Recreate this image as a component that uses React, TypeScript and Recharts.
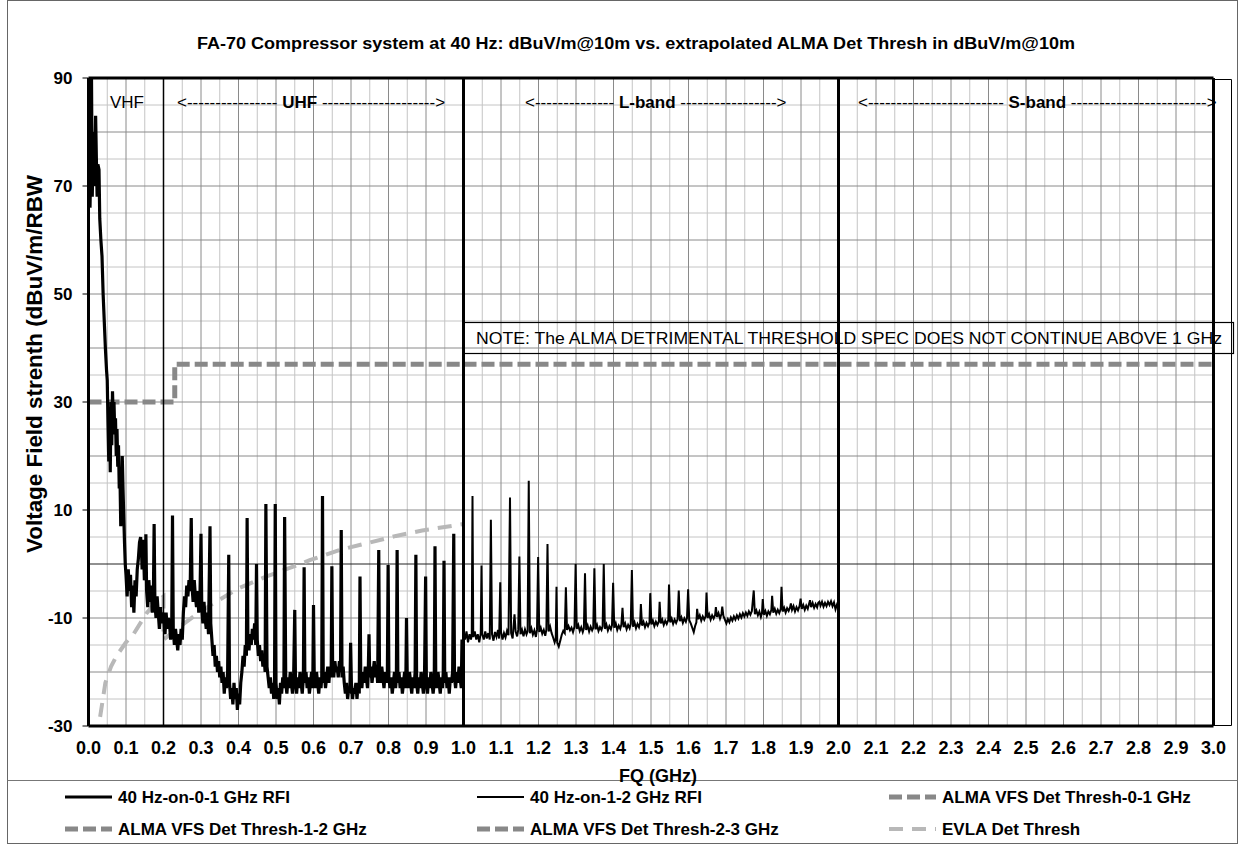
import React from 'react'
import { LineChart, Line, XAxis, YAxis, ReferenceLine } from 'recharts'

// frequency (GHz), level (dBuV/m)
const rfi0to1: [number, number][] = [
  [0.000, 88], [0.002, 90], [0.004, 66], [0.006, 74], [0.008, 90], [0.010, 68], [0.013, 80], [0.016, 70],
  [0.019, 83], [0.021, 75], [0.023, 68], [0.025, 74], [0.028, 73], [0.030, 64], [0.033, 60], [0.036, 57],
  [0.039, 50], [0.042, 45], [0.045, 40], [0.048, 36], [0.050, 34], [0.052, 26], [0.054, 19], [0.056, 28],
  [0.058, 17], [0.060, 30], [0.062, 22], [0.064, 32], [0.066, 27], [0.068, 30], [0.070, 24], [0.072, 27],
  [0.074, 20], [0.076, 25], [0.078, 18], [0.080, 22], [0.082, 14], [0.084, 16], [0.086, 7], [0.088, 10],
  [0.090, 20], [0.092, 14], [0.094, 9], [0.096, 4], [0.098, 0], [0.100, -2], [0.103, -6], [0.106, -1],
  [0.109, -5], [0.112, -2], [0.115, -8], [0.118, -4], [0.121, -9], [0.124, -3], [0.127, -6], [0.130, -1],
  [0.133, 1], [0.136, 4], [0.139, 5], [0.141, 3], [0.143, -1], [0.146, 4.5], [0.149, -3], [0.152, -2],
  [0.153, 5.5], [0.155, -5], [0.158, -8], [0.161, -3], [0.164, -7], [0.167, -4], [0.170, -9], [0.173, -6],
  [0.175, 7.4], [0.177, -7], [0.180, -10], [0.183, -6], [0.186, -9], [0.189, -12], [0.192, -8], [0.195, -11],
  [0.198, -9], [0.201, -10], [0.204, -13], [0.207, -9], [0.210, -12], [0.213, -10], [0.216, -11], [0.219, -14],
  [0.222, -11], [0.224, 9], [0.226, -12], [0.229, -15], [0.232, -12], [0.235, -14], [0.238, -16], [0.241, -13],
  [0.244, -15], [0.247, -12], [0.250, -14], [0.253, -9], [0.256, -6], [0.259, -8], [0.262, -4], [0.265, -6],
  [0.268, -3], [0.271, -5], [0.274, 8.5], [0.276, -4], [0.279, -7], [0.282, -3], [0.285, -6], [0.288, -8],
  [0.291, -5], [0.294, -9], [0.297, -7], [0.300, 5.6], [0.302, -8], [0.305, -11], [0.308, -7], [0.311, -10],
  [0.314, -12], [0.317, -9], [0.320, -13], [0.324, 7], [0.326, -11], [0.329, -14], [0.332, -17], [0.335, -15],
  [0.338, -19], [0.341, -17], [0.344, -20], [0.347, -18], [0.350, -21], [0.353, -19], [0.356, -22], [0.359, -20],
  [0.362, -24], [0.365, -21], [0.368, -23], [0.371, -20], [0.374, 1.7], [0.376, -22], [0.379, -25], [0.382, -23],
  [0.385, -26], [0.388, -22], [0.391, -25], [0.394, -23], [0.397, -27], [0.400, -24], [0.403, -26], [0.406, -22],
  [0.409, -20], [0.412, -17], [0.415, -19], [0.418, -15], [0.421, -17], [0.423, 8.5], [0.425, -14], [0.428, -16],
  [0.431, -13], [0.434, -15], [0.437, -12], [0.440, -14], [0.443, -11], [0.446, -15], [0.448, 0], [0.450, -14],
  [0.453, -17], [0.456, -15], [0.459, -18], [0.462, -16], [0.465, -19], [0.468, -17], [0.471, -20], [0.473, 11.1],
  [0.476, -19], [0.479, -21], [0.482, -23], [0.485, -21], [0.488, -24], [0.491, -22], [0.494, -25], [0.496, -23],
  [0.498, 11.1], [0.500, -22], [0.503, -25], [0.506, -23], [0.509, -26], [0.512, -22], [0.515, -24], [0.518, -21],
  [0.521, -23], [0.523, 8.7], [0.526, -22], [0.529, -24], [0.532, -21], [0.535, -23], [0.538, -20], [0.541, -22],
  [0.544, -24], [0.547, -21], [0.550, -8.5], [0.552, -22], [0.555, -24], [0.558, -21], [0.561, -23], [0.564, -20],
  [0.567, -22], [0.570, -24], [0.573, -21], [0.575, -0.6], [0.577, -22], [0.580, -20], [0.583, -23], [0.586, -21],
  [0.589, -24], [0.592, -22], [0.595, -20], [0.598, -23], [0.600, -7.6], [0.602, -21], [0.605, -23], [0.608, -20],
  [0.611, -22], [0.614, -24], [0.617, -21], [0.620, -23], [0.622, -21], [0.624, 12.6], [0.626, -22], [0.629, -20],
  [0.632, -23], [0.635, -21], [0.638, -19], [0.641, -22], [0.644, -19], [0.647, -21], [0.649, -0.4], [0.651, -19],
  [0.654, -21], [0.657, -18], [0.660, -20], [0.663, -19], [0.666, -21], [0.669, -18], [0.672, -20], [0.674, 6.3],
  [0.676, -21], [0.679, -19], [0.682, -22], [0.685, -24], [0.688, -22], [0.691, -25], [0.694, -23], [0.697, -24],
  [0.699, -14.6], [0.701, -22], [0.704, -25], [0.707, -23], [0.710, -24], [0.713, -22], [0.716, -25], [0.719, -22],
  [0.722, -24], [0.724, -2.3], [0.726, -21], [0.729, -23], [0.732, -20], [0.735, -22], [0.738, -19], [0.741, -21],
  [0.744, -23], [0.746, -20], [0.748, -13], [0.750, -21], [0.753, -19], [0.756, -22], [0.759, -20], [0.762, -18],
  [0.765, -21], [0.768, -19], [0.771, -22], [0.774, 2.6], [0.776, -20], [0.779, -22], [0.782, -19], [0.785, -21],
  [0.788, -23], [0.791, -20], [0.794, -22], [0.797, -20], [0.799, -0.2], [0.801, -21], [0.804, -23], [0.807, -21],
  [0.810, -24], [0.813, -22], [0.816, -20], [0.819, -23], [0.821, -21], [0.823, 2.6], [0.825, -22], [0.828, -20],
  [0.831, -23], [0.834, -21], [0.837, -24], [0.840, -22], [0.843, -20], [0.846, -23], [0.848, -10], [0.850, -21],
  [0.853, -23], [0.856, -20], [0.859, -22], [0.862, -24], [0.865, -21], [0.868, -23], [0.871, -20], [0.873, 1.7],
  [0.875, -22], [0.878, -24], [0.881, -21], [0.884, -23], [0.887, -20], [0.890, -22], [0.893, -24], [0.896, -21],
  [0.899, -2.3], [0.901, -22], [0.904, -24], [0.907, -21], [0.910, -23], [0.913, -20], [0.916, -22], [0.919, -24],
  [0.922, -22], [0.924, 3.3], [0.926, -21], [0.929, -23], [0.932, -20], [0.935, -22], [0.938, -24], [0.941, -21],
  [0.944, -23], [0.946, -20], [0.948, 0.6], [0.950, -22], [0.953, -20], [0.956, -23], [0.959, -21], [0.962, -24],
  [0.965, -21], [0.968, -22], [0.971, -20], [0.974, 5.6], [0.976, -21], [0.979, -23], [0.982, -20], [0.985, -22],
  [0.988, -19], [0.991, -21], [0.994, -23], [0.996, -14], [0.998, -21], [1.000, -22],
]

const rfi1to2: [number, number][] = [
  [1.000, -13], [1.004, -14], [1.008, -12.5], [1.012, -14.5], [1.016, -13], [1.020, -14], [1.022, -13], [1.024, 12.6],
  [1.026, -13.5], [1.030, -12.5], [1.034, -14], [1.038, -13], [1.042, -14.5], [1.046, -12.8], [1.048, -0.3], [1.050, -13],
  [1.054, -14], [1.058, -12.5], [1.062, -13.8], [1.066, -12.8], [1.070, -14], [1.073, 8.2], [1.076, -13], [1.080, -14.2],
  [1.084, -12.6], [1.088, -13.5], [1.092, -12.2], [1.095, -13.8], [1.098, -3.4], [1.100, -12.6], [1.104, -14], [1.108, -12.8],
  [1.112, -13.6], [1.116, -12.4], [1.120, -13.2], [1.124, 12.3], [1.127, -12.8], [1.131, -13.8], [1.136, -9.3], [1.139, -12.5],
  [1.143, -13.4], [1.146, -12.2], [1.149, 1.4], [1.152, -13], [1.156, -12.2], [1.160, -13.4], [1.164, -12.1], [1.168, -13],
  [1.171, -12.4], [1.174, 15.4], [1.177, -12.8], [1.181, -11.9], [1.185, -13.1], [1.189, -12.3], [1.193, -13.5], [1.196, -12.2],
  [1.199, 1.3], [1.202, -12.6], [1.206, -11.8], [1.210, -12.9], [1.214, -12.2], [1.218, -13.3], [1.221, -12.1], [1.224, 3.7],
  [1.227, -12.5], [1.231, -11.6], [1.235, -12.8], [1.239, -13.6], [1.243, -14.5], [1.246, -13.8], [1.248, -4.2], [1.250, -14.6],
  [1.254, -15.3], [1.258, -14.2], [1.262, -13.1], [1.266, -12.4], [1.270, -12.8], [1.273, -4.3], [1.276, -12.2], [1.280, -11.5],
  [1.284, -12.3], [1.288, -11.8], [1.292, -12.6], [1.296, -11.6], [1.299, 0], [1.302, -12], [1.306, -11.3], [1.310, -12.4],
  [1.314, -11.7], [1.318, -12.6], [1.321, -11.9], [1.324, -1.7], [1.327, -12.2], [1.331, -11.4], [1.335, -12.5], [1.339, -11.6],
  [1.343, -12.3], [1.346, -11.8], [1.349, -0.8], [1.352, -12.1], [1.356, -11.3], [1.360, -12.4], [1.364, -11.7], [1.368, -12.2],
  [1.371, -11.5], [1.374, 0], [1.377, -12], [1.381, -11.2], [1.385, -12.3], [1.389, -11.5], [1.393, -12.1], [1.396, -11.3],
  [1.399, -3.5], [1.402, -11.8], [1.406, -11], [1.410, -12.2], [1.414, -11.4], [1.418, -12], [1.421, -11.2], [1.424, -8.1],
  [1.427, -11.7], [1.431, -11], [1.435, -12.1], [1.439, -11.3], [1.443, -11.9], [1.446, -11.1], [1.449, -1.1], [1.452, -11.6],
  [1.456, -10.8], [1.460, -11.9], [1.464, -11.1], [1.468, -11.7], [1.471, -10.9], [1.473, -7.4], [1.476, -11.4], [1.480, -10.7],
  [1.484, -11.7], [1.488, -10.9], [1.492, -11.5], [1.496, -10.8], [1.498, -5.4], [1.501, -11.2], [1.505, -10.5], [1.509, -11.5],
  [1.513, -10.7], [1.517, -11.3], [1.521, -10.6], [1.523, -7], [1.526, -11], [1.530, -10.3], [1.534, -11.3], [1.538, -10.5],
  [1.542, -11.1], [1.546, -10.4], [1.548, -3.8], [1.551, -10.8], [1.555, -10.1], [1.559, -11.1], [1.563, -10.3], [1.567, -10.9],
  [1.571, -10.2], [1.574, -4.9], [1.577, -10.6], [1.581, -9.9], [1.585, -10.9], [1.589, -10.1], [1.593, -10.7], [1.596, -10],
  [1.599, -4.7], [1.602, -10.4], [1.606, -11], [1.610, -11.8], [1.614, -12.6], [1.618, -11.4], [1.621, -10.8], [1.623, -8.3],
  [1.626, -10.2], [1.630, -9.5], [1.634, -10.5], [1.638, -9.7], [1.642, -10.3], [1.646, -9.6], [1.648, -5.3], [1.651, -10],
  [1.655, -9.3], [1.659, -10.3], [1.663, -9.5], [1.667, -10.1], [1.671, -9.4], [1.673, -8], [1.676, -9.8], [1.680, -9.1],
  [1.684, -10.1], [1.688, -9.2], [1.690, -7.9], [1.693, -9.6], [1.697, -10.3], [1.701, -11], [1.705, -10.2], [1.709, -10.8],
  [1.713, -9.9], [1.717, -10.5], [1.721, -9.7], [1.725, -10.3], [1.729, -9.5], [1.733, -10.1], [1.737, -9.3], [1.741, -9.9],
  [1.745, -9.1], [1.749, -9.7], [1.753, -9], [1.757, -9.6], [1.761, -8.8], [1.765, -9.4], [1.769, -8.7], [1.774, -4.9],
  [1.777, -9.3], [1.781, -8.6], [1.785, -9.5], [1.789, -8.8], [1.793, -9.8], [1.796, -9], [1.798, -6.5], [1.801, -9.4],
  [1.805, -8.7], [1.809, -9.6], [1.813, -8.8], [1.817, -9.3], [1.821, -8.5], [1.823, -5.9], [1.826, -9], [1.830, -8.3],
  [1.834, -9.2], [1.838, -8.5], [1.842, -9.1], [1.846, -8.3], [1.848, -4.2], [1.851, -8.8], [1.855, -8.1], [1.859, -9],
  [1.863, -8.2], [1.867, -8.7], [1.871, -8], [1.873, -7.3], [1.876, -8.5], [1.880, -7.8], [1.884, -8.8], [1.888, -8],
  [1.892, -8.6], [1.896, -7.8], [1.899, -6.4], [1.902, -8.3], [1.906, -7.6], [1.910, -8.5], [1.914, -7.7], [1.918, -8.3],
  [1.921, -7.5], [1.924, -6.7], [1.927, -8], [1.931, -7.2], [1.935, -8.1], [1.939, -7.4], [1.943, -8], [1.946, -7.2],
  [1.949, -7], [1.952, -7.7], [1.956, -7], [1.960, -7.9], [1.964, -7.2], [1.968, -7.8], [1.972, -7], [1.976, -7.6],
  [1.980, -6.9], [1.984, -7.8], [1.988, -7.1], [1.992, -8.4], [1.996, -7.5], [2.000, -8],
]

const almaThresh0to1: [number, number][] = [[0, 30], [0.23, 30], [0.23, 37], [1.0, 37]]
const almaThresh1to2: [number, number][] = [[1.0, 37], [2.0, 37]]
const almaThresh2to3: [number, number][] = [[2.0, 37], [3.0, 37]]

const evlaThresh: [number, number][] = [
  [0.031, -28.3], [0.045, -22], [0.06, -19], [0.075, -17], [0.1, -14.5], [0.12, -13], [0.155, -9.1], [0.18, -7],
  [0.2, -6], [0.2, -14], [0.244, -11.6], [0.29, -9.2], [0.333, -7.3], [0.4, -4.5], [0.475, -2.3], [0.546, -0.5],
  [0.59, 0.7], [0.67, 2.6], [0.74, 3.8], [0.82, 5.2], [0.89, 6.2], [1.0, 7.4],
]

const xTicks = [0, 0.1, 0.2, 0.3, 0.4, 0.5, 0.6, 0.7, 0.8, 0.9, 1.0, 1.1, 1.2, 1.3, 1.4, 1.5, 1.6, 1.7, 1.8, 1.9, 2.0,
  2.1, 2.2, 2.3, 2.4, 2.5, 2.6, 2.7, 2.8, 2.9, 3.0]
const yTicks = [-30, -10, 10, 30, 50, 70, 90]

const seriesNames = [
  '40 Hz-on-0-1 GHz RFI',
  '40 Hz-on-1-2 GHz RFI',
  'ALMA VFS Det Thresh-0-1 GHz',
  'ALMA VFS Det Thresh-1-2 GHz',
  'ALMA VFS Det Thresh-2-3 GHz',
  'EVLA Det Thresh',
]

const FONT = '"Liberation Sans", Arial, sans-serif'

const seriesStyle = [
  { stroke: '#000', width: 3.2, dash: undefined },
  { stroke: '#000', width: 2, dash: undefined },
  { stroke: '#888', width: 5, dash: '13 5' },
  { stroke: '#888', width: 5, dash: '13 5' },
  { stroke: '#888', width: 5, dash: '13 5' },
  { stroke: '#b8b8b8', width: 4, dash: '14 9' },
]

const toRows = (pairs: [number, number][]) => pairs.map(([f, v]) => ({ f, v }))

// gridlines (layout only)
const vMinor = Array.from({ length: 30 }, (_, i) => +(0.05 + i * 0.1).toFixed(2))
const vMajor = Array.from({ length: 29 }, (_, i) => +(0.1 * (i + 1)).toFixed(1)).filter(v => ![0.2, 1, 2].includes(v))
const hMinor = Array.from({ length: 12 }, (_, i) => -25 + i * 10)
const hMajor = [-20, -10, 10, 20, 30, 40, 50, 60, 70, 80]

function Overlay() {
  const legendCols = [65, 477, 889]
  const legendRows = [797, 829]
  return (
    <svg width={1245} height={844} style={{ position: 'absolute', left: 0, top: 0, pointerEvents: 'none' }}
      fontFamily={FONT}>
      <rect x={7.5} y={0.5} width={1230} height={843} fill="none" stroke="#666" strokeWidth={1} />
      <line x1={7.5} x2={1237.5} y1={780.5} y2={780.5} stroke="#777" strokeWidth={1} />
      <polyline points="1213,79.5 1231.5,79.5 1231.5,725.5 1213,725.5" fill="none" stroke="#000" strokeWidth={1} />

      <text x={636} y={49} textAnchor="middle" fontSize={16} fontWeight="bold" textLength={878}
        lengthAdjust="spacingAndGlyphs">
        FA-70 Compressor system at 40 Hz: dBuV/m@10m  vs. extrapolated ALMA Det Thresh in dBuV/m@10m
      </text>

      <text transform="translate(42,364) rotate(-90)" textAnchor="middle" fontSize={22} fontWeight="bold"
        textLength={378} lengthAdjust="spacingAndGlyphs">
        Voltage Field strenth  (dBuV/m/RBW
      </text>

      <text x={658} y={782} textAnchor="middle" fontSize={18} fontWeight="bold">FQ (GHz)</text>

      <text x={110} y={108} fontSize={17} textLength={34} lengthAdjust="spacingAndGlyphs">VHF</text>
      <text x={177} y={108} fontSize={17}>
        {'<---------------- '}<tspan fontWeight="bold">UHF</tspan>{' -------------------->'}
      </text>
      <text x={525} y={108} fontSize={17}>
        {'<-------------- '}<tspan fontWeight="bold">L-band</tspan>{' ----------------->'}
      </text>
      <text x={858} y={108} fontSize={17}>
        {'<------------------------ '}<tspan fontWeight="bold">S-band</tspan>{' ------------------------>'}
      </text>

      <rect x={463.5} y={322.5} width={770} height={31} fill="none" stroke="#000" strokeWidth={1.2} />
      <text x={476} y={344} fontSize={17} textLength={746} lengthAdjust="spacingAndGlyphs">
        NOTE: The ALMA DETRIMENTAL THRESHOLD  SPEC DOES NOT CONTINUE ABOVE 1 GHz
      </text>

      {seriesNames.map((name, i) => {
        const x = legendCols[i % 3]
        const y = legendRows[Math.floor(i / 3)]
        const s = seriesStyle[i]
        return (
          <g key={name}>
            <line x1={x} x2={x + 47} y1={y} y2={y} stroke={s.stroke} strokeWidth={Math.min(s.width, 5)}
              strokeDasharray={s.dash} />
            <text x={x + 53} y={y + 6} fontSize={17} fontWeight="bold">{name}</text>
          </g>
        )
      })}
    </svg>
  )
}

export default function App() {
  return (
    <div style={{ position: 'absolute', left: 0, top: 0, width: 1245, height: 844, background: '#fff' }}>
      <LineChart width={1245} height={844} margin={{ top: 78, right: 31.5, bottom: 78, left: 0 }}>
        <XAxis type="number" dataKey="f" domain={[0, 3]} ticks={xTicks} allowDataOverflow
          tickFormatter={(v: number) => v.toFixed(1)} height={40} tickLine={false} tickSize={6} tickMargin={9}
          axisLine={{ stroke: '#000', strokeWidth: 3 }}
          tick={{ fontSize: 18, fontWeight: 'bold', fill: '#000', fontFamily: FONT }} interval={0} />
        <YAxis type="number" domain={[-30, 90]} ticks={yTicks} allowDataOverflow width={88.5}
          tickSize={6} tickMargin={10} tickLine={{ stroke: '#000' }}
          axisLine={{ stroke: '#000', strokeWidth: 3 }}
          tick={{ fontSize: 17, fontWeight: 'bold', fill: '#000', fontFamily: FONT }} interval={0} />

        {vMinor.map(x => <ReferenceLine key={'vm' + x} x={x} stroke="#c4c4c4" strokeWidth={1} />)}
        {hMinor.map(y => <ReferenceLine key={'hm' + y} y={y} stroke="#c4c4c4" strokeWidth={1} />)}
        {vMajor.map(x => <ReferenceLine key={'vM' + x} x={x} stroke="#8a8a8a" strokeWidth={1} />)}
        {hMajor.map(y => <ReferenceLine key={'hM' + y} y={y} stroke="#8a8a8a" strokeWidth={1} />)}
        <ReferenceLine y={0} stroke="#222" strokeWidth={1.2} />

        <Line data={toRows(evlaThresh)} dataKey="v" type="linear" stroke={seriesStyle[5].stroke}
          strokeWidth={seriesStyle[5].width} strokeDasharray={seriesStyle[5].dash} dot={false}
          isAnimationActive={false} name={seriesNames[5]} />
        <Line data={toRows(almaThresh0to1)} dataKey="v" type="linear" stroke={seriesStyle[2].stroke}
          strokeWidth={seriesStyle[2].width} strokeDasharray={seriesStyle[2].dash} dot={false}
          isAnimationActive={false} name={seriesNames[2]} />
        <Line data={toRows(almaThresh1to2)} dataKey="v" type="linear" stroke={seriesStyle[3].stroke}
          strokeWidth={seriesStyle[3].width} strokeDasharray={seriesStyle[3].dash} dot={false}
          isAnimationActive={false} name={seriesNames[3]} />
        <Line data={toRows(almaThresh2to3)} dataKey="v" type="linear" stroke={seriesStyle[4].stroke}
          strokeWidth={seriesStyle[4].width} strokeDasharray={seriesStyle[4].dash} dot={false}
          isAnimationActive={false} name={seriesNames[4]} />
        <Line data={toRows(rfi0to1)} dataKey="v" type="linear" stroke={seriesStyle[0].stroke}
          strokeWidth={seriesStyle[0].width} dot={false} isAnimationActive={false} name={seriesNames[0]} />
        <Line data={toRows(rfi1to2)} dataKey="v" type="linear" stroke={seriesStyle[1].stroke}
          strokeWidth={seriesStyle[1].width} dot={false} isAnimationActive={false} name={seriesNames[1]} />

        <ReferenceLine x={0.2} stroke="#000" strokeWidth={1.5} />
        <ReferenceLine x={1} stroke="#000" strokeWidth={3} />
        <ReferenceLine x={2} stroke="#000" strokeWidth={3} />
        <ReferenceLine x={3} stroke="#000" strokeWidth={3} />
        <ReferenceLine y={90} stroke="#000" strokeWidth={3} />
      </LineChart>
      <Overlay />
    </div>
  )
}
